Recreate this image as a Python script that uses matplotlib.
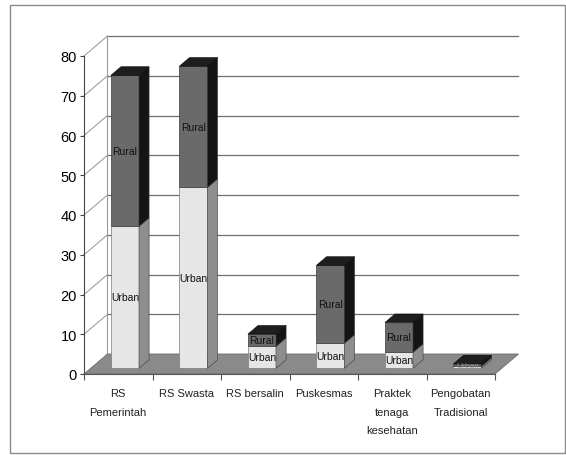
import numpy as np
import matplotlib
matplotlib.use('Agg')
import matplotlib.pyplot as plt
from matplotlib.patches import Polygon, Rectangle

# data (percent)
categories = ['RS\nPemerintah', 'RS Swasta', 'RS bersalin', 'Puskesmas',
              'Praktek\ntenaga\nkesehatan', 'Pengobatan\nTradisional']
urban = [35.7, 45.5, 5.5, 6.3, 4.0, 0.5]
rural = [38.0, 30.5, 3.1, 19.6, 7.5, 0.6]
yticks = [0, 10, 20, 30, 40, 50, 60, 70, 80]

plt.rcParams['font.family'] = ['Liberation Sans', 'DejaVu Sans']

fig = plt.figure(figsize=(5.66, 4.56), dpi=100)
ax = fig.add_axes([84 / 566, 1 - 375 / 456, 411 / 566, 318 / 456])

n = len(categories)
x = np.arange(n)
x0, x1 = -0.5, n - 0.5
ymax = 80
ax.set_xlim(x0, x1)
ax.set_ylim(0, ymax)

# oblique depth of the floor / back wall (data units)
DX, DY = 0.343, 5.03
# bar depth and its position in the middle of the floor depth
frac = 0.43
bdx, bdy = DX * frac, DY * frac
ox, oy = DX * (1 - frac) / 2, DY * (1 - frac) / 2
bw = 0.41

# floor
ax.add_patch(Polygon([(x0, 0), (x1, 0), (x1 + DX, DY), (x0 + DX, DY)],
                     closed=True, fc='#8a8a8a', ec='#6a6a6a', lw=0.6,
                     clip_on=False, zorder=1))

# back wall grid lines and left wall lines
for yt in yticks[1:]:
    ax.plot([x0 + DX, x1 + DX], [yt + DY, yt + DY], color='#6e6e6e',
            lw=0.9, clip_on=False, zorder=0.5)
    ax.plot([x0, x0 + DX], [yt, yt + DY], color='#a0a0a0', lw=0.8,
            clip_on=False, zorder=0.5)
ax.plot([x0 + DX, x0 + DX], [DY, ymax + DY], color='#9a9a9a', lw=0.8,
        clip_on=False, zorder=0.5)

urban_face, urban_side = '#e6e6e6', '#8e8e8e'
rural_face, rural_side, top_col = '#6a6a6a', '#141414', '#1e1e1e'


def side_face(xr, yb, yt, col):
    ax.add_patch(Polygon([(xr, yb), (xr + bdx, yb + bdy), (xr + bdx, yt + bdy), (xr, yt)],
                         closed=True, fc=col, ec='#3a3a3a', lw=0.4,
                         clip_on=False, zorder=3))


xs = x + ox
base = oy
ax.bar(xs, urban, width=bw, bottom=base, color=urban_face, edgecolor='#7a7a7a',
       lw=0.5, zorder=3)
ax.bar(xs, rural, width=bw, bottom=base + np.array(urban), color=rural_face,
       edgecolor='#3a3a3a', lw=0.5, zorder=3)

for i in range(n):
    xl, xr = xs[i] - bw / 2, xs[i] + bw / 2
    u_top = base + urban[i]
    r_top = u_top + rural[i]
    side_face(xr, base, u_top, urban_side)
    side_face(xr, u_top, r_top, rural_side)
    ax.add_patch(Polygon([(xl, r_top), (xr, r_top), (xr + bdx, r_top + bdy), (xl + bdx, r_top + bdy)],
                         closed=True, fc=top_col, ec='#000000', lw=0.4,
                         clip_on=False, zorder=3))
    if urban[i] + rural[i] < 2:
        ax.text(xs[i], base + 0.6, 'Urban', ha='center', va='center',
                fontsize=6, color='#9a9a9a', zorder=4)
        continue
    ax.text(xs[i], base + urban[i] / 2, 'Urban', ha='center', va='center',
            fontsize=7.5, color='#111111', zorder=4)
    ax.text(xs[i], u_top + rural[i] / 2, 'Rural', ha='center', va='center',
            fontsize=7.5, color='#111111', zorder=4)

# axes styling
for s in ['top', 'right']:
    ax.spines[s].set_visible(False)
ax.spines['left'].set_color('#444444')
ax.spines['bottom'].set_color('#555555')
ax.spines['left'].set_zorder(5)
ax.set_yticks(yticks)
ax.tick_params(axis='y', labelsize=10.5, length=3, width=0.8, color='#444444', pad=2)
ax.set_xticks(x)
ax.set_xticklabels(categories, fontsize=8, linespacing=2.1, color='#222222')
ax.tick_params(axis='x', length=0, pad=10)
ax.set_xticks(np.arange(n + 1) - 0.5, minor=True)
ax.tick_params(axis='x', which='minor', length=4, width=0.8, color='#555555')
ax.patch.set_visible(False)

# outer frame
fig.add_artist(Rectangle((10 / 566, 2 / 456), 555 / 566, 448 / 456,
                         transform=fig.transFigure, fill=False,
                         ec='#8a8a8a', lw=1))

fig.savefig('out.png', dpi=100)
